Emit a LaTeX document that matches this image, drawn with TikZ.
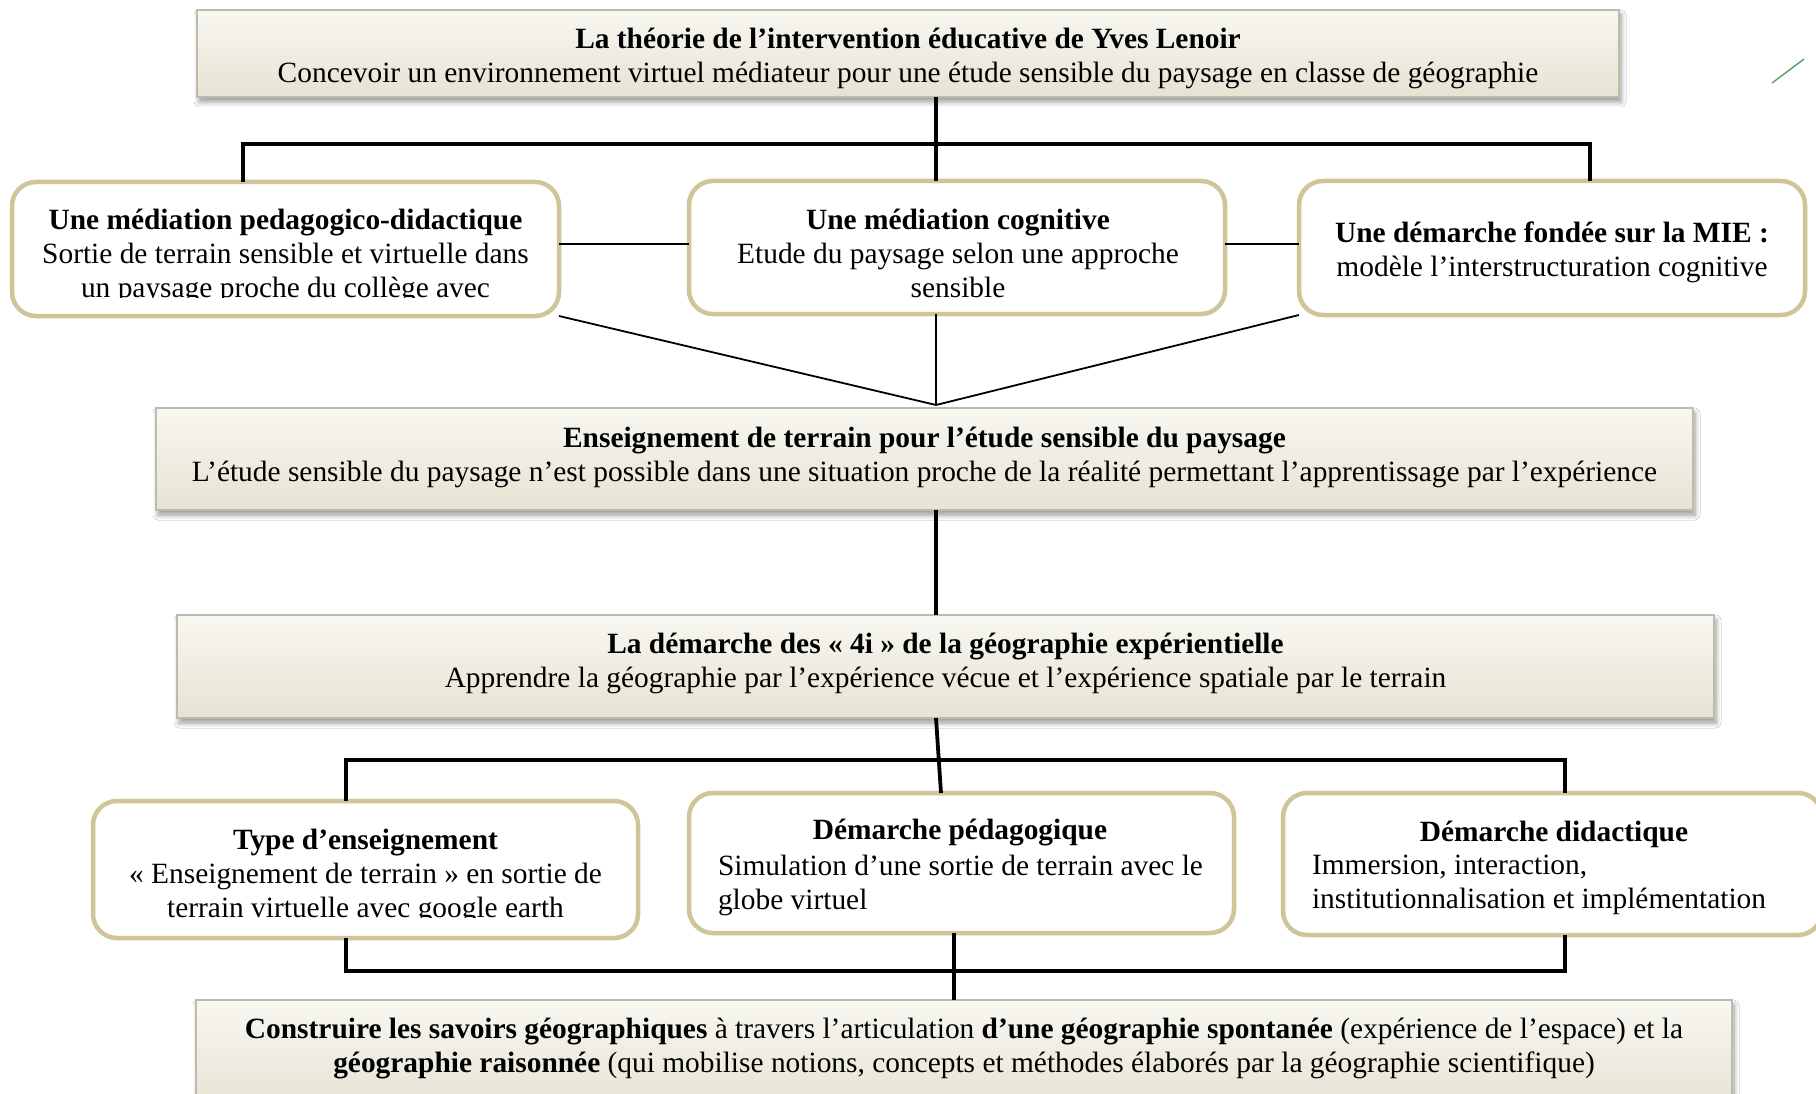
\documentclass[tikz,border=0pt]{standalone}
\usepackage{fontspec}
\setmainfont{Liberation Serif}
\usetikzlibrary{shadows.blur,calc}
\definecolor{boxtop}{HTML}{F8F7F1}
\definecolor{boxbot}{HTML}{E6E3D3}
\definecolor{boxline}{HTML}{BEBBAA}
\definecolor{tanline}{HTML}{CFC598}
\definecolor{greenmark}{HTML}{4E9A5A}
\tikzset{
  rectbox/.style={draw=boxline, line width=1.2pt, top color=boxtop, bottom color=boxbot,
    blur shadow={shadow xshift=2pt, shadow yshift=-5pt, shadow blur radius=5pt, shadow blur steps=8, shadow opacity=40},
    inner sep=0pt, outer sep=0pt},
  roundbox/.style={draw=tanline, line width=4.5pt, fill=white, rounded corners=24pt,
    inner sep=0pt, outer sep=0pt},
  txt/.style={inner sep=0pt, outer sep=0pt, align=center, font=\fontsize{29.4}{34}\selectfont},
  txtl/.style={inner sep=0pt, outer sep=0pt, align=left, anchor=west, font=\fontsize{29.4}{34}\selectfont},
  heavy/.style={draw=black, line width=3.8pt},
  medium/.style={draw=black, line width=3.2pt},
  light/.style={draw=black, line width=1.8pt},
}
\begin{document}
\begin{tikzpicture}[x=1pt,y=-1pt]
\clip (0,0) rectangle (1816,1094);
\fill[white] (0,0) rectangle (1816,1094);

% boxes (rectangular)
\node[rectbox, minimum width=1422pt, minimum height=87pt] (top) at (908,53.5) {};
\node[rectbox, minimum width=1537pt, minimum height=102pt] (ens) at (924.5,459) {};
\node[rectbox, minimum width=1537pt, minimum height=103pt] (dem) at (945.5,666.5) {};
\node[rectbox, minimum width=1536pt, minimum height=110pt] (bot) at (964,1055) {};

% junction coordinates
\coordinate (b1) at (936,144);
\coordinate (bl) at (243,144);
\coordinate (br) at (1590,144);
\coordinate (h1) at (0,244);
\coordinate (conv) at (936,405);
\coordinate (k) at (941,0);
\coordinate (bar2l) at (346,760);
\coordinate (bar2r) at (1565,760);
\coordinate (bar3l) at (346,971);
\coordinate (bar3r) at (1565,971);
\coordinate (k2) at (954,0);

% rounded boxes
\node[roundbox, minimum width=547pt, minimum height=134pt] (l1) at (285.5,249) {};
\node[roundbox, minimum width=536pt, minimum height=133pt] (m1) at (957,247.5) {};
\node[roundbox, minimum width=506pt, minimum height=134pt] (r1) at (1552,248) {};
\node[roundbox, minimum width=545pt, minimum height=137pt] (l2) at (365.5,869.5) {};
\node[roundbox, minimum width=545pt, minimum height=140pt] (m2) at (961.5,863) {};
\node[roundbox, minimum width=539pt, minimum height=142pt] (r2) at (1552.5,864) {};

% connectors top tree
\draw[heavy] (b1 |- top.south) -- (b1);
\draw[heavy] (bl |- l1.north) -- (bl) -- (br) -- (br |- r1.north);
\draw[heavy] (b1) -- (b1 |- m1.north);
\draw[light] (l1.east |- h1) -- (m1.west |- h1);
\draw[light] (m1.east |- h1) -- (r1.west |- h1);
\draw[light] (l1.south east) -- (conv);
\draw[light] (conv |- m1.south) -- (conv);
\draw[light] (r1.south west) -- (conv);
\draw[medium] (conv |- ens.south) -- (conv |- dem.north);

% connectors second tree
\draw[heavy] (dem.south -| conv) -- (k |- m2.north);
\draw[heavy] (bar2l |- l2.north) -- (bar2l) -- (bar2r) -- (bar2r |- r2.north);
\draw[heavy] (bar3l |- l2.south) -- (bar3l) -- (bar3r) -- (bar3r |- r2.south);
\draw[medium] (k2 |- m2.south) -- (k2 |- bot.north);

% texts
\node[txt] (ttop) at (908,58.5) {\textbf{La théorie de l’intervention éducative de Yves Lenoir}\\Concevoir un environnement virtuel médiateur pour une étude sensible du paysage en classe de géographie};

\begin{scope}
\clip (14,184) rectangle (557,297);
\node[txt] (tl1) at (285.5,256.5) {\textbf{Une médiation pedagogico-didactique}\\Sortie de terrain sensible et virtuelle dans\\un paysage proche du collège avec};
\end{scope}
\node[txt] (tm1) at (958,253) {\textbf{Une médiation cognitive}\\Etude du paysage selon une approche\\sensible};
\node[txt] (tr1) at (1552,252.5) {\textbf{Une démarche fondée sur la MIE :}\\modèle l’interstructuration cognitive};

\node[txt] (tens) at (924.5,457) {\textbf{Enseignement de terrain pour l’étude sensible du paysage}\\L’étude sensible du paysage n’est possible dans une situation proche de la réalité permettant l’apprentissage par l’expérience};
\node[txt] (tdem) at (945.5,663.5) {\textbf{La démarche des « 4i » de la géographie expérientielle}\\Apprendre la géographie par l’expérience vécue et l’expérience spatiale par le terrain};

\begin{scope}
\clip (95,803) rectangle (636,917);
\node[txt] (tl2) at (365.5,876) {\textbf{Type d’enseignement}\\« Enseignement de terrain » en sortie de\\terrain virtuelle avec google earth};
\end{scope}
\node[txt] (tm2a) at (960,833) {\textbf{Démarche pédagogique}};
\node[txtl] (tm2b) at (718,885) {Simulation d’une sortie de terrain avec le\\globe virtuel};
\node[txt] (tr2a) at (1554,834) {\textbf{Démarche didactique}};
\node[txtl] (tr2b) at (1312,884.5) {Immersion, interaction,\\institutionnalisation et implémentation};

\node[txt] (tbot) at (964,1048.5) {\textbf{Construire les savoirs géographiques} à travers l’articulation \textbf{d’une géographie spontanée} (expérience de l’espace) et la\\\textbf{géographie raisonnée} (qui mobilise notions, concepts et méthodes élaborés par la géographie scientifique)};

% green mark
\draw[greenmark, line width=1.3pt] (1772,83) -- (1804,59);
\end{tikzpicture}
\end{document}
